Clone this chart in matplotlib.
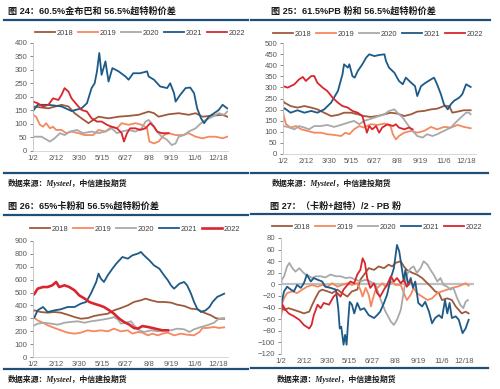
import matplotlib
matplotlib.use("Agg")
import matplotlib.pyplot as plt
from matplotlib.lines import Line2D

plt.rcParams['font.family'] = ['Liberation Sans', 'Noto Sans CJK SC']

years = ["2018", "2019", "2020", "2021", "2022"]
colors = {"2018": "#9E5A3C", "2019": "#F4895F", "2020": "#A9A9A9",
          "2021": "#1C5A88", "2022": "#D9262E"}

tick_pos = [0, 30, 60, 90, 120, 150, 180, 210, 240]
tick_labels = ["1/2", "2/12", "3/30", "5/15", "6/27", "8/8", "9/19", "11/6", "12/18"]

# 图24 60.5%金布巴 - 56.5%超特粉 (交易日序号, 价差)
p24_2018 = [(0,165),(20,158),(37,171),(46,165),(54,140),(63,121),(72,103),(78,115),(85,127),(98,121),(111,127),(124,130),(137,134),(150,146),(157,140),(163,127),(176,136),(189,140),(202,134),(211,140),(220,127),(233,131),(246,134),(252,127)]
p24_2019 = [(0,134),(4,127),(9,97),(13,90),(17,103),(22,84),(26,90),(30,78),(37,78),(43,66),(50,72),(59,66),(67,59),(78,59),(85,78),(94,72),(102,90),(109,84),(115,103),(124,97),(133,103),(141,97),(148,84),(151,35),(157,28),(163,35),(170,59),(176,66),(185,59),(194,59),(202,66),(211,53),(220,47),(228,53),(237,53),(246,47),(252,53)]
p24_2020 = [(0,53),(11,53),(22,35),(28,47),(35,66),(41,59),(48,72),(57,78),(65,66),(76,72),(85,66),(94,72),(102,84),(109,66),(115,72),(124,78),(133,72),(141,84),(146,109),(150,115),(154,103),(161,72),(167,53),(174,41),(180,22),(185,28),(189,53),(196,59),(202,72),(211,84),(218,103),(224,115),(233,127),(241,140),(248,134),(252,146)]
p24_2021 = [(0,148),(6,171),(20,171),(37,165),(50,148),(63,158),(70,177),(76,233),(80,251),(83,295),(86,363),(89,282),(94,332),(98,257),(103,307),(111,295),(120,276),(124,264),(130,288),(139,288),(148,295),(150,276),(157,264),(165,239),(174,233),(178,251),(183,214),(185,183),(191,208),(198,233),(204,235),(209,214),(213,158),(218,121),(222,103),(228,127),(235,140),(241,152),(246,171),(252,158)]
p24_2022 = [(0,183),(6,177),(13,165),(20,171),(26,195),(33,189),(37,208),(41,233),(46,220),(50,195),(57,171),(63,152),(70,146),(76,121),(83,109),(89,109),(96,97),(102,90),(109,84),(115,66),(118,35),(122,66),(126,84),(133,84),(139,78),(146,84),(152,103),(157,90),(161,72),(167,66),(176,66)]

# 图25 61.5%PB粉 - 56.5%超特粉
p25_2018 = [(0,239),(2,231),(10,216),(19,209),(28,216),(37,209),(45,201),(54,186),(63,171),(72,176),(80,186),(89,186),(98,179),(106,171),(115,167),(124,171),(133,179),(141,186),(150,182),(159,171),(168,179),(176,191),(185,194),(194,201),(202,204),(211,216),(218,216),(222,186),(229,191),(237,197),(246,197)]
p25_2019 = [(0,194),(1,171),(4,134),(10,119),(17,126),(24,111),(32,104),(41,96),(50,96),(58,89),(67,86),(76,81),(82,96),(87,89),(93,111),(100,126),(106,119),(115,134),(124,131),(133,137),(141,126),(144,89),(148,66),(152,81),(159,96),(168,104),(176,96),(185,104),(194,122),(202,111),(211,122),(220,119),(229,131),(237,122),(246,116)]
p25_2020 = [(0,126),(6,122),(15,111),(21,126),(28,119),(34,111),(41,126),(50,126),(58,131),(67,122),(76,131),(85,141),(93,149),(100,134),(106,149),(113,156),(120,164),(126,171),(133,179),(139,194),(146,201),(150,186),(157,164),(163,134),(170,104),(176,81),(183,74),(189,89),(196,81),(202,89),(211,104),(220,119),(226,141),(233,164),(240,186),(244,186),(246,179)]
p25_2021 = [(0,201),(2,206),(10,186),(19,197),(28,186),(37,194),(45,186),(54,201),(63,231),(72,284),(78,359),(80,404),(85,389),(87,404),(91,351),(94,344),(98,374),(104,404),(109,434),(113,449),(120,441),(126,446),(133,449),(135,419),(139,389),(146,366),(152,329),(157,314),(161,344),(168,321),(173,306),(176,261),(181,306),(187,321),(194,336),(198,344),(202,314),(207,269),(211,224),(216,201),(220,224),(224,239),(231,254),(235,269),(240,314),(244,306),(246,302)]
p25_2022 = [(0,306),(6,299),(15,314),(21,336),(26,347),(30,329),(37,351),(41,351),(45,321),(52,299),(58,284),(65,254),(72,231),(78,216),(85,209),(91,194),(98,186),(104,171),(107,134),(110,96),(113,126),(117,111),(122,126),(126,96),(130,119),(137,134),(144,126),(148,134),(152,119),(159,111),(165,119),(170,111)]

# 图26 65%卡粉 - 56.5%超特粉
p26_2018 = [(0,355),(2,362),(10,349),(19,344),(28,349),(36,344),(45,328),(54,310),(62,297),(71,302),(79,318),(88,328),(97,336),(105,362),(114,380),(123,401),(131,427),(140,440),(146,453),(153,440),(162,427),(170,427),(179,422),(187,406),(196,396),(205,375),(213,370),(222,344),(231,323),(237,302),(241,297),(248,297)]
p26_2019 = [(0,300),(2,302),(6,284),(13,266),(19,246),(28,225),(36,207),(45,189),(54,181),(62,189),(71,207),(79,199),(88,207),(97,199),(105,220),(114,199),(123,207),(129,181),(136,194),(142,189),(149,168),(155,181),(162,168),(168,181),(175,189),(183,168),(192,181),(200,173),(209,168),(216,194),(220,225),(226,225),(235,233),(241,225),(248,230)]
p26_2020 = [(0,240),(2,246),(6,259),(15,266),(23,259),(32,251),(41,266),(49,272),(58,277),(67,266),(75,277),(84,284),(92,292),(101,302),(105,310),(110,292),(114,259),(121,266),(127,277),(131,246),(138,207),(144,194),(153,207),(162,199),(170,207),(179,207),(187,220),(196,215),(203,194),(209,215),(218,233),(226,246),(235,266),(241,297),(248,302)]
p26_2021 = [(0,300),(2,310),(6,362),(13,388),(19,349),(28,362),(36,370),(45,388),(54,388),(62,414),(69,427),(75,491),(82,582),(85,647),(88,608),(92,582),(97,634),(103,685),(108,724),(112,750),(116,776),(123,763),(129,789),(136,802),(140,815),(144,789),(151,750),(157,711),(164,685),(170,634),(175,595),(179,556),(183,530),(190,569),(196,582),(200,556),(205,491),(209,427),(213,375),(218,349),(224,362),(229,388),(233,427),(239,466),(248,491)]
p26_2022 = [(0,480),(2,491),(6,530),(13,543),(19,543),(25,556),(30,582),(34,543),(41,556),(47,543),(54,517),(60,478),(67,453),(73,427),(79,414),(86,401),(92,388),(99,362),(105,336),(112,297),(118,272),(125,251),(131,225),(136,220),(142,240),(149,233),(155,225),(162,215),(168,207),(175,207)]

# 图27 (卡粉+超特)/2 - PB粉
p27_2018 = [(0,-50),(1,-38),(4,-44),(10,-41),(17,-44),(24,-47),(30,-50),(37,-47),(41,-35),(45,-24),(50,-12),(54,-9),(61,-12),(67,-15),(74,-9),(80,-15),(87,-21),(93,-12),(100,-9),(104,8),(109,17),(115,28),(122,25),(128,31),(135,28),(141,34),(146,31),(150,37),(157,40),(161,31),(165,25),(172,20),(178,17),(185,11),(192,2),(198,-6),(202,-12),(207,-15),(211,-27),(218,-24),(224,-27),(229,-38),(233,-44),(237,-50),(242,-47),(246,-50)]
p27_2019 = [(0,-50),(1,-35),(4,-24),(8,-15),(15,-12),(21,-15),(28,-9),(34,-4),(41,-1),(48,-4),(54,-1),(61,-4),(67,2),(74,-4),(80,-1),(87,2),(93,-1),(100,2),(104,-9),(107,-21),(111,-6),(115,-18),(118,-38),(120,-27),(124,-9),(128,-4),(133,2),(137,-4),(141,-1),(146,5),(150,-1),(157,-1),(161,-15),(165,-27),(170,-18),(174,-6),(178,-15),(185,-21),(192,-27),(198,-24),(205,-15),(211,-12),(218,-9),(224,-6),(231,-4),(237,-1),(242,2),(246,-2)]
p27_2020 = [(0,-1),(1,8),(4,14),(8,31),(11,37),(15,28),(19,22),(24,28),(28,22),(32,17),(37,14),(41,11),(45,14),(52,14),(58,12),(65,17),(72,14),(78,14),(85,11),(91,12),(98,8),(104,5),(111,8),(117,5),(124,-1),(130,-24),(137,-47),(144,-64),(148,-70),(152,-61),(157,-44),(161,-12),(165,17),(170,28),(174,31),(178,20),(183,28),(187,40),(192,34),(196,25),(200,17),(205,5),(209,11),(213,-1),(218,-4),(222,-9),(226,-6),(231,-24),(235,-35),(239,-41),(242,-30),(245,-27)]
p27_2021 = [(0,-53),(1,-30),(4,-12),(8,-4),(13,-9),(17,-12),(21,-1),(26,-6),(30,2),(34,17),(39,5),(43,11),(48,8),(54,5),(58,-4),(65,-6),(72,-9),(75,-41),(77,-76),(79,-73),(82,-104),(84,-87),(86,-104),(88,-64),(90,-30),(93,-35),(96,-50),(100,-32),(104,-44),(109,-41),(115,-53),(122,-58),(126,-53),(130,-47),(135,-32),(139,-18),(144,11),(148,28),(152,68),(155,57),(158,31),(161,5),(163,25),(167,-1),(170,11),(173,-6),(176,5),(180,-32),(185,-38),(189,-30),(194,-47),(198,-67),(202,-58),(207,-53),(211,-58),(215,-27),(218,-50),(221,-32),(224,-58),(229,-55),(233,-61),(238,-84),(242,-76),(246,-61)]
p27_2022 = [(0,-58),(1,-41),(2,-35),(6,-44),(10,-50),(17,-55),(24,-61),(30,-70),(37,-76),(40,-70),(43,-53),(48,-35),(52,-41),(56,-32),(63,-35),(69,-21),(74,-15),(78,-21),(82,-9),(87,-1),(91,5),(96,2),(100,17),(104,25),(107,45),(110,37),(113,11),(117,-6),(122,2),(126,-15),(130,-21),(135,-9),(139,-1),(144,14),(148,5),(152,11),(157,2),(161,8),(165,-4),(170,5)]

panels = [
    {"title": "图 24：60.5%金布巴和 56.5%超特粉价差",
     "series": [p24_2018, p24_2019, p24_2020, p24_2021, p24_2022],
     "rect": [33, 43, 228, 151], "ylim": (0, 400), "step": 50,
     "tx": 8, "ty": 11, "l1": (4, 248, 20), "l2": (4, 248, 173), "src": (8, 183),
     "leg": (140, 33), "zero": False},
    {"title": "图 25：61.5%PB 粉和 56.5%超特粉价差",
     "series": [p25_2018, p25_2019, p25_2020, p25_2021, p25_2022],
     "rect": [283, 43, 476, 154], "ylim": (0, 500), "step": 50,
     "tx": 271, "ty": 11, "l1": (251, 490, 20), "l2": (251, 488, 173), "src": (272, 183),
     "leg": (378, 34), "zero": False},
    {"title": "图 26：65%卡粉和 56.5%超特粉价差",
     "series": [p26_2018, p26_2019, p26_2020, p26_2021, p26_2022],
     "rect": [33, 241, 228, 357], "ylim": (0, 900), "step": 100,
     "tx": 8, "ty": 206, "l1": (4, 248, 215), "l2": (4, 248, 369), "src": (8, 379),
     "leg": (135, 229), "zero": False},
    {"title": "图 27：（卡粉+超特）/2 - PB 粉",
     "series": [p27_2018, p27_2019, p27_2020, p27_2021, p27_2022],
     "rect": [281, 238, 474, 354], "ylim": (-120, 80), "step": 20,
     "tx": 270, "ty": 206, "l1": (251, 490, 214), "l2": (251, 488, 368), "src": (277, 379),
     "leg": (377, 227), "zero": True},
]

W, H = 500, 389
fig = plt.figure(figsize=(W / 100, H / 100), dpi=100)
line_blue = "#1F4E79"

for p in panels:
    x0, y0, x1, y1 = p["rect"]
    ax = fig.add_axes([x0 / W, 1 - y1 / H, (x1 - x0) / W, (y1 - y0) / H])
    for yr, s in zip(years, p["series"]):
        lw = 1.9 if (yr == "2022" and p["ylim"][1] == 900) else 1.3
        ax.plot([a for a, b in s], [b for a, b in s], color=colors[yr], lw=lw, label=yr)
    if p["zero"]:
        ax.axhline(0, color="#BFBFBF", lw=1.6, zorder=0)
    lo, hi = p["ylim"]
    ax.set_ylim(lo, hi)
    ax.set_xlim(0, 253)
    ax.set_yticks(range(lo, hi + 1, p["step"]))
    ax.set_xticks(tick_pos)
    ax.set_xticklabels(tick_labels)
    ax.tick_params(labelsize=5.6, colors="#595959", length=2, width=0.5, pad=2)
    ax.tick_params(axis="x", length=0, pad=3)
    for side in ["top", "right"]:
        ax.spines[side].set_visible(False)
    ax.spines["left"].set_color("#BFBFBF")
    ax.spines["left"].set_linewidth(0.6)
    ax.spines["bottom"].set_color("#D0D0D0")
    ax.spines["bottom"].set_linewidth(0.6)
    if p["zero"]:
        ax.spines["bottom"].set_visible(False)
    ax.legend(loc="center", bbox_to_anchor=(p["leg"][0] / W, 1 - p["leg"][1] / H),
              bbox_transform=fig.transFigure, ncol=5, frameon=False, fontsize=5.4,
              handlelength=2.7, handletextpad=0.25, columnspacing=0.55,
              borderpad=0.1, labelcolor="#404040")

    fig.text(p["tx"] / W, 1 - p["ty"] / H, p["title"], fontsize=6.6, fontweight="bold",
             va="center", ha="left", color="#1A1A1A")
    for (a, b, y), lw in [(p["l1"], 1.6), (p["l2"], 1.6)]:
        fig.add_artist(Line2D([a / W, b / W], [1 - y / H, 1 - y / H], color=line_blue, lw=lw,
                              transform=fig.transFigure))
    fig.text(p["src"][0] / W, 1 - p["src"][1] / H, "数据来源：Mysteel，中信建投期货",
             fontsize=5.7, fontweight="bold", style="italic", va="center", ha="left",
             family=["Liberation Serif", "Noto Sans CJK SC"], color="#1A1A1A")

fig.savefig("out.png", dpi=100)
